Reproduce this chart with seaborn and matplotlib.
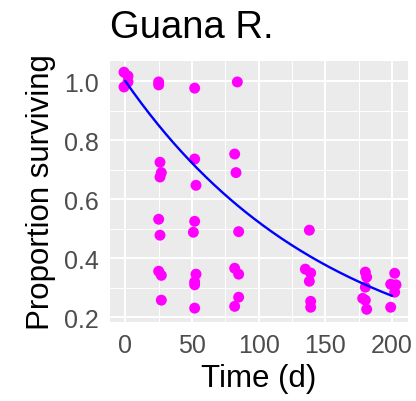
import numpy as np
import pandas as pd
import matplotlib
matplotlib.use("Agg")
import matplotlib.pyplot as plt
from matplotlib.ticker import MultipleLocator
import seaborn as sns

days = [-1, 2, -1, 2,
        25, 25, 26, 27, 26, 25, 26, 25, 27, 27,
        52, 52, 53, 52, 51, 53, 52, 52, 52,
        84, 82, 83, 85, 82, 85, 85, 82,
        138, 135, 139, 138, 139, 139,
        180, 181, 180, 178, 180, 181,
        202, 199, 203, 202, 199]
surviving = [1.03, 1.017, 0.98, 0.997,
             0.997, 0.987, 0.725, 0.69, 0.675, 0.532, 0.478, 0.356, 0.342, 0.258,
             0.976, 0.736, 0.647, 0.525, 0.488, 0.346, 0.32, 0.31, 0.231,
             0.997, 0.753, 0.69, 0.49, 0.366, 0.346, 0.268, 0.237,
             0.495, 0.363, 0.35, 0.322, 0.254, 0.234,
             0.353, 0.336, 0.302, 0.264, 0.258, 0.227,
             0.349, 0.312, 0.31, 0.285, 0.234]

# fitted exponential decay rate (per day)
decay_rate = 0.0065
curve_days = np.linspace(0, 200, 200)

df = pd.DataFrame({"Time": days, "Prop": surviving})
fit = pd.DataFrame({"Time": curve_days, "Prop": np.exp(-decay_rate * curve_days)})

sns.set_theme(style="darkgrid", rc={
    "axes.facecolor": "#EBEBEB",
    "grid.color": "white",
    "xtick.color": "#333333",
    "ytick.color": "#333333",
})
plt.rcParams["font.family"] = ["Liberation Sans", "DejaVu Sans"]

fig = plt.figure(figsize=(4.16, 4.02), dpi=100)
ax = fig.add_axes([0.2644, 0.1965, 0.7164, 0.6493])

sns.scatterplot(data=df, x="Time", y="Prop", color="#FF00FF", s=62,
                edgecolor="none", ax=ax, zorder=3)
sns.lineplot(data=fit, x="Time", y="Prop", color="#0000FF", lw=1.7, ax=ax, zorder=4)

ax.set_xlim(-11.5, 212)
ax.set_ylim(0.184, 1.068)
ax.set_xticks([0, 50, 100, 150, 200])
ax.set_yticks([0.2, 0.4, 0.6, 0.8, 1.0])
ax.set_yticklabels(["0.2", "0.4", "0.6", "0.8", "1.0"])
ax.xaxis.set_minor_locator(MultipleLocator(25))
ax.yaxis.set_minor_locator(MultipleLocator(0.1))
ax.grid(which="major", color="white", lw=1.4)
ax.grid(which="minor", color="white", lw=0.7)
for sp in ax.spines.values():
    sp.set_visible(False)
ax.tick_params(which="major", length=5, width=1.1, color="#333333",
               labelsize=18, labelcolor="#4D4D4D", pad=3)
ax.tick_params(which="minor", length=0)

ax.set_xlabel("Time (d)", fontsize=22.5, color="black", labelpad=4)
ax.set_ylabel("Proportion surviving", fontsize=22.5, color="black", labelpad=6)
fig.text(0.264, 0.9055, "Guana R.", fontsize=27.5, color="black",
         ha="left", va="baseline")

fig.savefig("out.png", dpi=100)
